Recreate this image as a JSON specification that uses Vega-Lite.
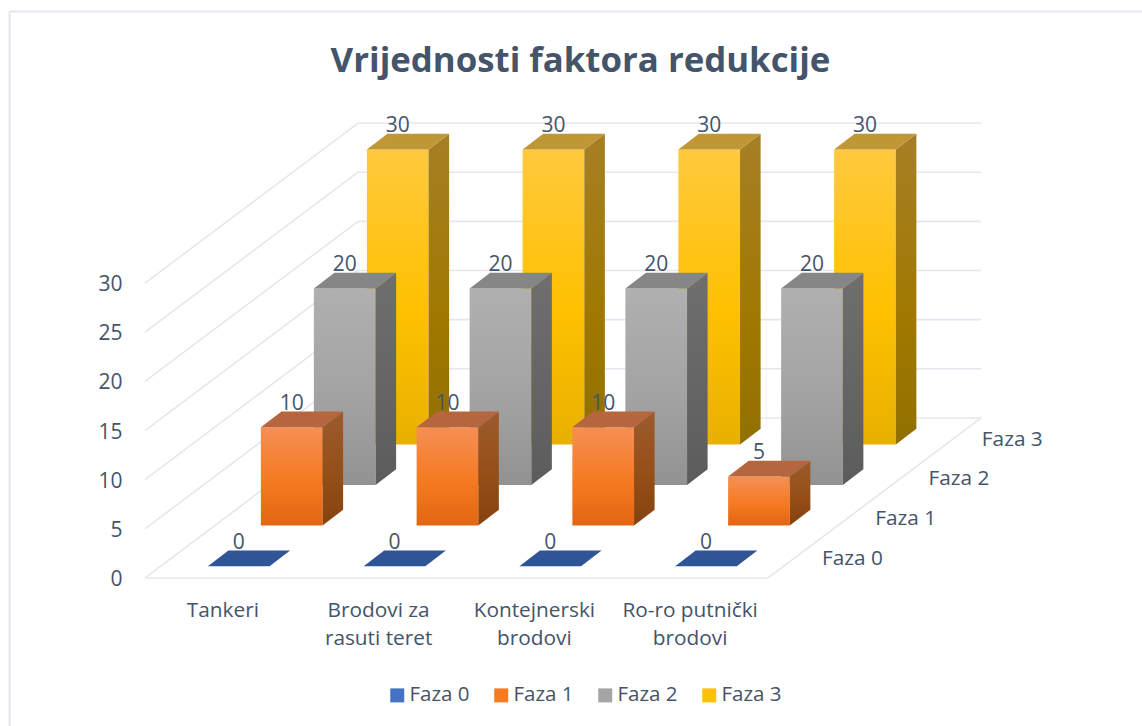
{
"$schema":"https://vega.github.io/schema/vega-lite/v6.json",
"width":1133,"height":715,"autosize":{"type":"none"},
"padding":{"left":9,"top":11,"right":0,"bottom":0},
"background":"white",
"view":{"stroke":null},
"title":{"text":"Vrijednosti faktora redukcije","font":"Open Sans","fontSize":34.8,"fontWeight":"bold","color":"#44546A","anchor":"middle","frame":"group","dx":5,"offset":-69},
"datasets":{
"bars":[
{"kategorija":"Tankeri","faza":"Faza 0","vrijednost":0},{"kategorija":"Brodovi za rasuti teret","faza":"Faza 0","vrijednost":0},{"kategorija":"Kontejnerski brodovi","faza":"Faza 0","vrijednost":0},{"kategorija":"Ro-ro putnički brodovi","faza":"Faza 0","vrijednost":0},
{"kategorija":"Tankeri","faza":"Faza 1","vrijednost":10},{"kategorija":"Brodovi za rasuti teret","faza":"Faza 1","vrijednost":10},{"kategorija":"Kontejnerski brodovi","faza":"Faza 1","vrijednost":10},{"kategorija":"Ro-ro putnički brodovi","faza":"Faza 1","vrijednost":5},
{"kategorija":"Tankeri","faza":"Faza 2","vrijednost":20},{"kategorija":"Brodovi za rasuti teret","faza":"Faza 2","vrijednost":20},{"kategorija":"Kontejnerski brodovi","faza":"Faza 2","vrijednost":20},{"kategorija":"Ro-ro putnički brodovi","faza":"Faza 2","vrijednost":20},
{"kategorija":"Tankeri","faza":"Faza 3","vrijednost":30},{"kategorija":"Brodovi za rasuti teret","faza":"Faza 3","vrijednost":30},{"kategorija":"Kontejnerski brodovi","faza":"Faza 3","vrijednost":30},{"kategorija":"Ro-ro putnički brodovi","faza":"Faza 3","vrijednost":30}
],
"grid":[{"v":0},{"v":5},{"v":10},{"v":15},{"v":20},{"v":25},{"v":30}],
"cats":[{"c":0,"oznaka":"Tankeri"},{"c":1,"oznaka":"Brodovi za\nrasuti teret"},{"c":2,"oznaka":"Kontejnerski\nbrodovi"},{"c":3,"oznaka":"Ro-ro putnički\nbrodovi"}],
"phases":[{"p":0,"oznaka":"Faza 0"},{"p":1,"oznaka":"Faza 1"},{"p":2,"oznaka":"Faza 2"},{"p":3,"oznaka":"Faza 3"}]
},
"data":{"name":"bars"},
"transform":[
{"calculate":"indexof(['Tankeri','Brodovi za rasuti teret','Kontejnerski brodovi','Ro-ro putnički brodovi'],datum.kategorija)","as":"c"},
{"calculate":"toNumber(substring(datum.faza,5))","as":"p"},
{"calculate":"datum.c+0.305+0.3403*(datum.p+0.29)","as":"xF"},
{"calculate":"datum.xF+0.396","as":"xR"},
{"calculate":"4.13*(datum.p+0.29)","as":"yB"},
{"calculate":"datum.yB+datum.vrijednost","as":"yT"},
{"calculate":"[0,1]","as":"t"},
{"flatten":["t"]}
],
"encoding":{
"x":{"field":"X","type":"quantitative","stack":null,"scale":{"domain":[-0.8732,6.4013],"nice":false,"zero":false},
"axis":{"orient":"top","title":null,"labels":false,"ticks":false,"grid":false,"domain":true,"domainColor":"#E2E6EF","domainWidth":2}},
"y":{"field":"Y","type":"quantitative","stack":null,"scale":{"domain":[-15.06,57.68],"nice":false,"zero":false},
"axis":{"title":null,"values":[0,5,10,15,20,25,30],"ticks":false,"grid":false,"domain":true,"domainColor":"#E2E6EF","domainWidth":2,"labelPadding":-113,"labelOffset":1.5,"labelFont":"Open Sans","labelFontSize":21,"labelColor":"#44546A"}}
},
"layer":[
{"data":{"name":"grid"},"transform":[{"calculate":"0","as":"X"},{"calculate":"datum.v","as":"Y"},{"calculate":"1.368","as":"X2"},{"calculate":"datum.v+16.28","as":"Y2"}],
 "mark":{"type":"rule","color":"#E4E7EF","strokeWidth":1.6},"encoding":{"x2":{"field":"X2"},"y2":{"field":"Y2"}}},
{"data":{"name":"grid"},"transform":[{"calculate":"1.368","as":"X"},{"calculate":"datum.v+16.28","as":"Y"},{"calculate":"5.368","as":"X2"},{"calculate":"datum.v+16.28","as":"Y2"}],
 "mark":{"type":"rule","color":"#E4E7EF","strokeWidth":1.6},"encoding":{"x2":{"field":"X2"},"y2":{"field":"Y2"}}},
{"data":{"name":"grid"},"transform":[{"filter":"datum.v==0"},{"calculate":"0","as":"X"},{"calculate":"0","as":"Y"},{"calculate":"4","as":"X2"},{"calculate":"0","as":"Y2"}],
 "mark":{"type":"rule","color":"#E4E7EF","strokeWidth":1.6},"encoding":{"x2":{"field":"X2"},"y2":{"field":"Y2"}}},
{"data":{"name":"grid"},"transform":[{"filter":"datum.v==0"},{"calculate":"4","as":"X"},{"calculate":"0","as":"Y"},{"calculate":"5.368","as":"X2"},{"calculate":"16.28","as":"Y2"}],
 "mark":{"type":"rule","color":"#E4E7EF","strokeWidth":1.6},"encoding":{"x2":{"field":"X2"},"y2":{"field":"Y2"}}},

{"transform":[{"filter":"datum.t==0"},{"calculate":"0","as":"X"},{"calculate":"0","as":"Y"}],
 "mark":{"type":"square","size":0,"opacity":1},
 "encoding":{"color":{"field":"faza","type":"nominal","scale":{"domain":["Faza 0","Faza 1","Faza 2","Faza 3"],"range":["#4472C4","#F57A22","#A5A5A5","#FFC000"]},
  "legend":{"title":null,"orient":"none","legendX":378,"legendY":674,"direction":"horizontal","columns":4,"symbolType":"square","symbolSize":196,"symbolStrokeWidth":0,"symbolOpacity":1,"labelFont":"Open Sans","labelFontSize":20.5,"labelColor":"#44546A","columnPadding":21,"labelOffset":2,
  "encode":{"symbols":{"update":{"fill":{"signal":"{gradient:'linear',x1:0,y1:0,x2:0,y2:1,stops:[{offset:0,color:datum.value=='Faza 0'?'#5B85D2':datum.value=='Faza 1'?'#F58F55':datum.value=='Faza 2'?'#B0B0B0':'#FFC93F'},{offset:1,color:datum.value=='Faza 0'?'#2F5EB0':datum.value=='Faza 1'?'#E26612':datum.value=='Faza 2'?'#929292':'#F5B800'}]}"}}}}}}}},

{"transform":[{"filter":"datum.p==3"}],"layer":[
 {"transform":[{"filter":"datum.t==0"},{"calculate":"datum.xF","as":"X"},{"calculate":"datum.yT","as":"Y"},{"calculate":"datum.xR","as":"X2"},{"calculate":"datum.yB","as":"Y2"}],
  "mark":{"type":"rect","color":{"gradient":"linear","x1":0,"y1":0,"x2":0,"y2":1,"stops":[{"offset":0,"color":"#FFC93F"},{"offset":0.55,"color":"#FFC000"},{"offset":1,"color":"#E8B000"}]}},"encoding":{"x2":{"field":"X2"},"y2":{"field":"Y2"}}},
 {"transform":[{"calculate":"datum.xR+datum.t*0.132","as":"X"},{"calculate":"datum.yT+datum.t*1.6","as":"Y"},{"calculate":"datum.yB+datum.t*1.6","as":"Y2"}],
  "mark":{"type":"area","orient":"vertical","color":{"gradient":"linear","x1":0,"y1":0,"x2":0,"y2":1,"stops":[{"offset":0,"color":"#A67F26"},{"offset":0.6,"color":"#A07800"},{"offset":1,"color":"#917000"}]}},"encoding":{"y2":{"field":"Y2"},"detail":{"field":"c"}}},
 {"transform":[{"calculate":"datum.xF+datum.t*0.132","as":"X"},{"calculate":"datum.xR+datum.t*0.132","as":"X2"},{"calculate":"datum.yT+datum.t*1.6","as":"Y"}],
  "mark":{"type":"area","orient":"horizontal","color":"#C09735"},"encoding":{"x2":{"field":"X2"},"detail":{"field":"c"}}}
]},
{"transform":[{"filter":"datum.p==2"}],"layer":[
 {"transform":[{"filter":"datum.t==0"},{"calculate":"datum.xF","as":"X"},{"calculate":"datum.yT","as":"Y"},{"calculate":"datum.xR","as":"X2"},{"calculate":"datum.yB","as":"Y2"}],
  "mark":{"type":"rect","color":{"gradient":"linear","x1":0,"y1":0,"x2":0,"y2":1,"stops":[{"offset":0,"color":"#B0B0B0"},{"offset":0.55,"color":"#A3A3A3"},{"offset":1,"color":"#929292"}]}},"encoding":{"x2":{"field":"X2"},"y2":{"field":"Y2"}}},
 {"transform":[{"calculate":"datum.xR+datum.t*0.132","as":"X"},{"calculate":"datum.yT+datum.t*1.6","as":"Y"},{"calculate":"datum.yB+datum.t*1.6","as":"Y2"}],
  "mark":{"type":"area","orient":"vertical","color":{"gradient":"linear","x1":0,"y1":0,"x2":0,"y2":1,"stops":[{"offset":0,"color":"#6F6F6F"},{"offset":1,"color":"#5C5C5C"}]}},"encoding":{"y2":{"field":"Y2"},"detail":{"field":"c"}}},
 {"transform":[{"calculate":"datum.xF+datum.t*0.132","as":"X"},{"calculate":"datum.xR+datum.t*0.132","as":"X2"},{"calculate":"datum.yT+datum.t*1.6","as":"Y"}],
  "mark":{"type":"area","orient":"horizontal","color":"#868686"},"encoding":{"x2":{"field":"X2"},"detail":{"field":"c"}}}
]},
{"transform":[{"filter":"datum.p==1"}],"layer":[
 {"transform":[{"filter":"datum.t==0"},{"calculate":"datum.xF","as":"X"},{"calculate":"datum.yT","as":"Y"},{"calculate":"datum.xR","as":"X2"},{"calculate":"datum.yB","as":"Y2"}],
  "mark":{"type":"rect","color":{"gradient":"linear","x1":0,"y1":0,"x2":0,"y2":1,"stops":[{"offset":0,"color":"#F58F55"},{"offset":0.55,"color":"#F57A22"},{"offset":1,"color":"#E26612"}]}},"encoding":{"x2":{"field":"X2"},"y2":{"field":"Y2"}}},
 {"transform":[{"calculate":"datum.xR+datum.t*0.132","as":"X"},{"calculate":"datum.yT+datum.t*1.6","as":"Y"},{"calculate":"datum.yB+datum.t*1.6","as":"Y2"}],
  "mark":{"type":"area","orient":"vertical","color":{"gradient":"linear","x1":0,"y1":0,"x2":0,"y2":1,"stops":[{"offset":0,"color":"#9C5B2E"},{"offset":0.55,"color":"#954F17"},{"offset":1,"color":"#86420F"}]}},"encoding":{"y2":{"field":"Y2"},"detail":{"field":"c"}}},
 {"transform":[{"calculate":"datum.xF+datum.t*0.132","as":"X"},{"calculate":"datum.xR+datum.t*0.132","as":"X2"},{"calculate":"datum.yT+datum.t*1.6","as":"Y"}],
  "mark":{"type":"area","orient":"horizontal","color":"#B5663F"},"encoding":{"x2":{"field":"X2"},"detail":{"field":"c"}}}
]},
{"transform":[{"filter":"datum.p==0"},{"calculate":"datum.xF+datum.t*0.132","as":"X"},{"calculate":"datum.xR+datum.t*0.132","as":"X2"},{"calculate":"datum.yT+datum.t*1.6","as":"Y"}],
  "mark":{"type":"area","orient":"horizontal","color":"#2F5597"},"encoding":{"x2":{"field":"X2"},"detail":{"field":"c"}}},
{"transform":[{"filter":"datum.t==0"},{"calculate":"datum.xF+0.198","as":"X"},{"calculate":"datum.yT+1.6+0.8","as":"Y"}],
 "mark":{"type":"text","font":"Open Sans","fontSize":21,"color":"#44546A","align":"center","baseline":"middle"},"encoding":{"text":{"field":"vrijednost","type":"quantitative"}}},
{"data":{"name":"cats"},"transform":[{"calculate":"datum.c+0.5","as":"X"},{"calculate":"-2.3","as":"Y"}],
 "mark":{"type":"text","font":"Open Sans","fontSize":20.8,"color":"#44546A","align":"center","baseline":"top","lineBreak":"\n","lineHeight":28},"encoding":{"text":{"field":"oznaka"}}},
{"data":{"name":"phases"},"transform":[{"calculate":"4.176+0.342*(datum.p+0.5)","as":"X"},{"calculate":"4.05*(datum.p+0.5)-0.1","as":"Y"}],
 "mark":{"type":"text","font":"Open Sans","fontSize":20.8,"color":"#44546A","align":"left","baseline":"middle"},"encoding":{"text":{"field":"oznaka"}}}
]
}
